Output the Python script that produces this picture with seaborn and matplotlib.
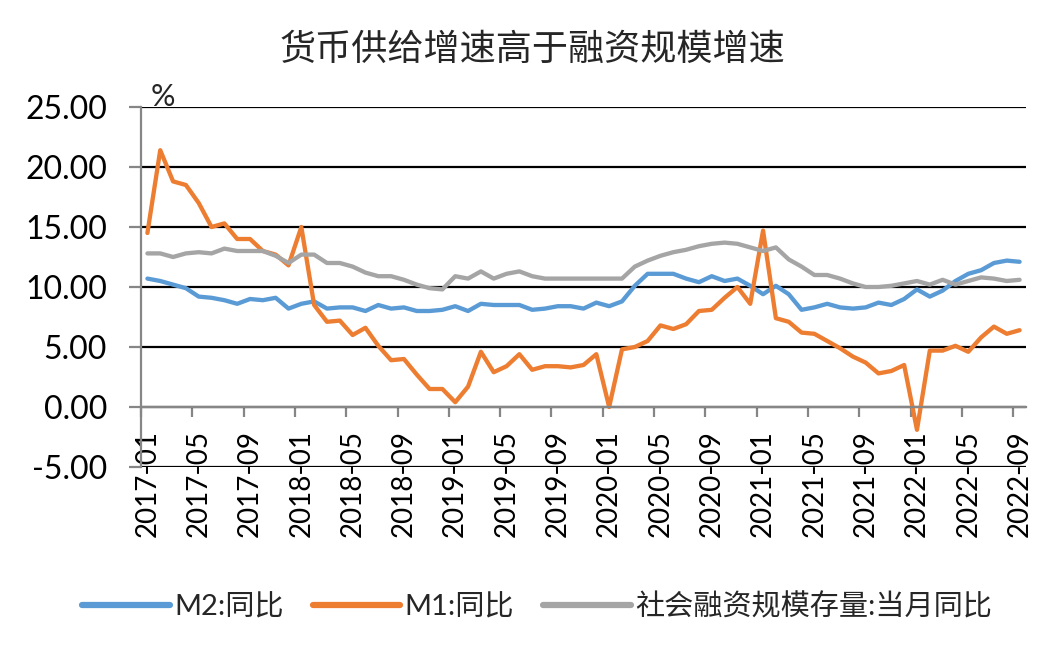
import numpy as np
import pandas as pd
import matplotlib
matplotlib.use("Agg")
import matplotlib.pyplot as plt
from matplotlib.ticker import FormatStrFormatter
import seaborn as sns

# monthly categories 2017-01 .. 2022-09
months = pd.period_range("2017-01", "2022-09", freq="M").strftime("%Y-%m").tolist()

# M2 yoy (%)
m2 = [10.7, 10.5, 10.2, 9.9, 9.2, 9.1, 8.9, 8.6, 9.0, 8.9, 9.1, 8.2,
      8.6, 8.8, 8.2, 8.3, 8.3, 8.0, 8.5, 8.2, 8.3, 8.0, 8.0, 8.1,
      8.4, 8.0, 8.6, 8.5, 8.5, 8.5, 8.1, 8.2, 8.4, 8.4, 8.2, 8.7,
      8.4, 8.8, 10.1, 11.1, 11.1, 11.1, 10.7, 10.4, 10.9, 10.5, 10.7, 10.1,
      9.4, 10.1, 9.4, 8.1, 8.3, 8.6, 8.3, 8.2, 8.3, 8.7, 8.5, 9.0,
      9.8, 9.2, 9.7, 10.5, 11.1, 11.4, 12.0, 12.2, 12.1]

# M1 yoy (%)
m1 = [14.5, 21.4, 18.8, 18.5, 17.0, 15.0, 15.3, 14.0, 14.0, 13.0, 12.7, 11.8,
      15.0, 8.5, 7.1, 7.2, 6.0, 6.6, 5.1, 3.9, 4.0, 2.7, 1.5, 1.5,
      0.4, 1.7, 4.6, 2.9, 3.4, 4.4, 3.1, 3.4, 3.4, 3.3, 3.5, 4.4,
      0.0, 4.8, 5.0, 5.5, 6.8, 6.5, 6.9, 8.0, 8.1, 9.1, 10.0, 8.6,
      14.7, 7.4, 7.1, 6.2, 6.1, 5.5, 4.9, 4.2, 3.7, 2.8, 3.0, 3.5,
      -1.9, 4.7, 4.7, 5.1, 4.6, 5.8, 6.7, 6.1, 6.4]

# total social financing stock yoy (%)
tsf = [12.8, 12.8, 12.5, 12.8, 12.9, 12.8, 13.2, 13.0, 13.0, 13.0, 12.6, 12.0,
       12.7, 12.7, 12.0, 12.0, 11.7, 11.2, 10.9, 10.9, 10.6, 10.2, 9.9, 9.8,
       10.9, 10.7, 11.3, 10.7, 11.1, 11.3, 10.9, 10.7, 10.7, 10.7, 10.7, 10.7,
       10.7, 10.7, 11.7, 12.2, 12.6, 12.9, 13.1, 13.4, 13.6, 13.7, 13.6, 13.3,
       13.0, 13.3, 12.3, 11.7, 11.0, 11.0, 10.7, 10.3, 10.0, 10.0, 10.1, 10.3,
       10.5, 10.2, 10.6, 10.2, 10.5, 10.8, 10.7, 10.5, 10.6]

series_names = ["M2:同比", "M1:同比", "社会融资规模存量:当月同比"]
colors = ["#5B9BD5", "#ED7D31", "#A5A5A5"]

df = pd.DataFrame({"month": months, series_names[0]: m2,
                   series_names[1]: m1, series_names[2]: tsf})
df["pos"] = np.arange(len(df))
long = df.melt(id_vars=["month", "pos"], var_name="series", value_name="value")

sns.set_theme(style="white")
plt.rcParams["font.family"] = ["Lato", "Noto Sans CJK SC", "DejaVu Sans"]

W, H = 1064, 660
fig = plt.figure(figsize=(W / 100, H / 100), dpi=100)
ax = fig.add_axes([141 / W, 1 - 467 / H, (1026 - 141) / W, 360 / H])

sns.lineplot(data=long, x="pos", y="value", hue="series", hue_order=series_names,
             palette=colors, linewidth=3.1, sort=False, ax=ax,
             solid_capstyle="round", solid_joinstyle="round")

ax.set_xlim(-0.5, len(months) - 0.5)
ax.set_ylim(-5, 25)
ax.set_yticks(np.arange(-5, 26, 5))
ax.yaxis.set_major_formatter(FormatStrFormatter("%.2f"))
ax.grid(axis="y", color="black", linewidth=1.6)
ax.grid(axis="x", visible=False)
ax.set_axisbelow(True)

for s in ["top", "right"]:
    ax.spines[s].set_visible(False)
ax.spines["bottom"].set_position(("data", 0))
for s in ["left", "bottom"]:
    ax.spines[s].set_color("#868686")
    ax.spines[s].set_linewidth(1.6)

# tick marks between categories, labels every 4th month
ax.set_xticks(np.arange(-0.5, len(months) - 1, 4))
ax.set_xticklabels([])
ax.set_xticks(np.arange(0, len(months), 4), labels=months[::4], minor=True)
ax.tick_params(axis="x", which="major", direction="out", length=7, width=1.6,
               color="#868686", bottom=True)
ax.tick_params(axis="x", which="minor", length=0, pad=16.5, labelsize=20,
               rotation=90, labelcolor="black")
ax.tick_params(axis="y", direction="out", length=8.5, width=1.6, color="#868686",
               left=True, pad=16, labelsize=23, labelcolor="black")
ax.set_xlabel("")
ax.set_ylabel("")

fig.text(163 / W, 1 - 97 / H, "%", ha="center", va="center", fontsize=22)
fig.text(532 / W, 1 - 50 / H, "货币供给增速高于融资规模增速", ha="center", va="center",
         fontsize=26, family=["Noto Sans CJK SC", "DejaVu Sans"])

handles, labels = ax.get_legend_handles_labels()
if ax.get_legend() is not None:
    ax.get_legend().remove()
for h in handles:
    h.set_linewidth(4.5)
    h.set_solid_capstyle("round")
fig.legend(handles, labels, loc="center", bbox_to_anchor=(537 / W, 1 - 607 / H),
           ncol=3, frameon=False, fontsize=21, handlelength=3.0,
           handletextpad=0.15, columnspacing=1.0)

fig.savefig("out.png", dpi=100)
